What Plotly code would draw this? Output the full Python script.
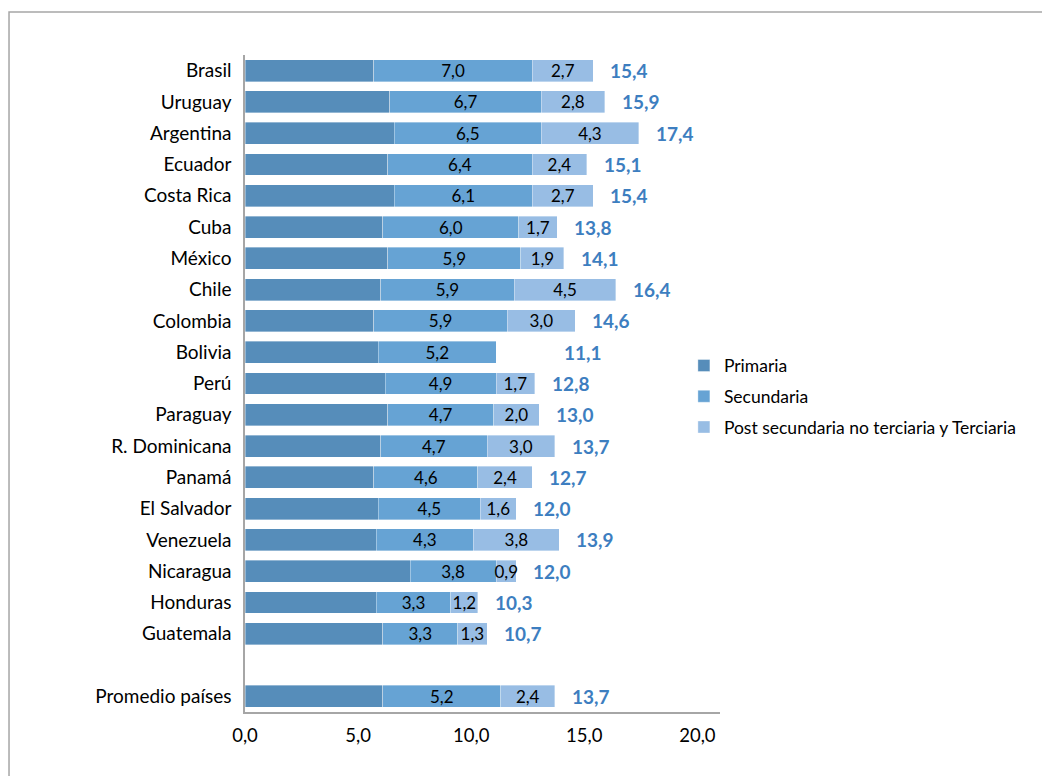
import plotly.graph_objects as go

countries = ["Brasil", "Uruguay", "Argentina", "Ecuador", "Costa Rica", "Cuba", "México",
             "Chile", "Colombia", "Bolivia", "Perú", "Paraguay", "R. Dominicana", "Panamá",
             "El Salvador", "Venezuela", "Nicaragua", "Honduras", "Guatemala", " ", "Promedio países"]
primaria = [5.7, 6.4, 6.6, 6.3, 6.6, 6.1, 6.3, 6.0, 5.7, 5.9, 6.2, 6.3, 6.0, 5.7, 5.9, 5.8, 7.3, 5.8, 6.1, None, 6.1]
secundaria = [7.0, 6.7, 6.5, 6.4, 6.1, 6.0, 5.9, 5.9, 5.9, 5.2, 4.9, 4.7, 4.7, 4.6, 4.5, 4.3, 3.8, 3.3, 3.3, None, 5.2]
terciaria = [2.7, 2.8, 4.3, 2.4, 2.7, 1.7, 1.9, 4.5, 3.0, None, 1.7, 2.0, 3.0, 2.4, 1.6, 3.8, 0.9, 1.2, 1.3, None, 2.4]
totales = [15.4, 15.9, 17.4, 15.1, 15.4, 13.8, 14.1, 16.4, 14.6, 11.1, 12.8, 13.0, 13.7, 12.7,
           12.0, 13.9, 12.0, 10.3, 10.7, None, 13.7]
series_names = ["Primaria", "Secundaria", "Post secundaria no terciaria y Terciaria"]
x_ticks = [0, 5, 10, 15, 20]

colors = ["#568DBA", "#66A3D4", "#98BDE4"]
FONT = "Lato, 'Open Sans', sans-serif"

fig = go.Figure()
for i, (name, vals, col, show_text) in enumerate(zip(series_names, [primaria, secundaria, terciaria], colors, [False, True, True])):
    fig.add_trace(go.Bar(
        y=countries, x=vals, name=name, orientation="h", legendgroup=f"g{i}",
        marker=dict(color=col, line=dict(color="rgba(255,255,255,0.6)", width=0.6)),
        texttemplate="%{x:.1f}" if show_text else None,
        textposition="inside" if show_text else "none",
        insidetextanchor="middle", textangle=0,
        textfont=dict(color="black", size=17, family=FONT),
        hoverinfo="skip",
    ))

for c, t in zip(countries, totales):
    if t is None:
        continue
    shift = 15 if c != "Bolivia" else 66
    fig.add_annotation(x=t, y=c, xref="x", yref="y", text="<b>" + f"{t:.1f}".replace(".", ",") + "</b>",
                       showarrow=False, xanchor="left", xshift=shift,
                       font=dict(color="#3D7EC0", size=19, family=FONT))

# outer border of the chart area
fig.add_shape(type="rect", xref="paper", yref="paper", x0=-0.4968, x1=2.0, y0=-0.3, y1=1.0654,
              line=dict(color="#A6A6A6", width=1.5), fillcolor="rgba(0,0,0,0)", layer="below")

fig.update_layout(
    width=1050, height=776,
    barmode="stack", bargap=0.3,
    separators=", ",
    paper_bgcolor="white", plot_bgcolor="white",
    margin=dict(l=237, r=338, t=47, b=72),
    font=dict(family=FONT, size=19, color="black"),
    uniformtext=dict(minsize=17, mode="show"),
    legend=dict(x=0.924, y=0.48, xanchor="left", yanchor="middle",
                font=dict(size=17.5, family=FONT), traceorder="grouped",
                itemwidth=30, tracegroupgap=5, bgcolor="rgba(0,0,0,0)"),
    showlegend=True,
)
fig.update_xaxes(range=[0, 21], tickvals=x_ticks, tickformat=".1f", showgrid=False,
                 zeroline=False, showline=True, linecolor="#A6A6A6", linewidth=1.5,
                 ticks="", ticklabelstandoff=6, tickfont=dict(size=18.5, family=FONT), fixedrange=True)
fig.update_yaxes(categoryorder="array", categoryarray=countries, autorange="reversed",
                 showgrid=False, zeroline=False, showline=True, linecolor="#A6A6A6", linewidth=1.5,
                 ticks="outside", ticklen=8, tickcolor="rgba(0,0,0,0)",
                 tickfont=dict(size=19, family=FONT), fixedrange=True)

fig.write_html("out.html")
